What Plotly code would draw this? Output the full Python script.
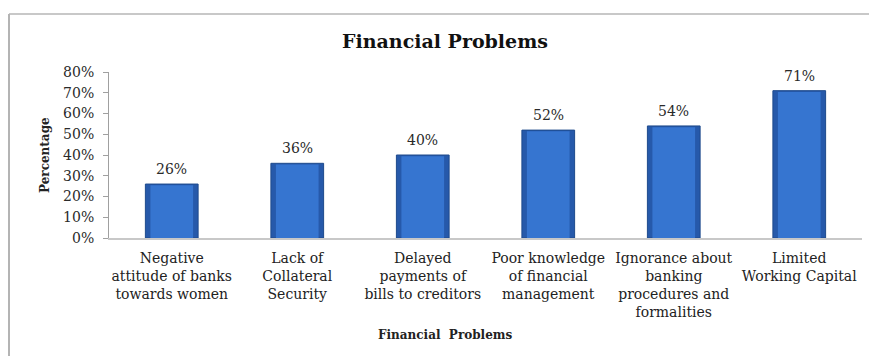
import plotly.graph_objects as go

categories = [
    "Negative<br>attitude of banks<br>towards women",
    "Lack of<br>Collateral<br>Security",
    "Delayed<br>payments of<br>bills to creditors",
    "Poor knowledge<br>of financial<br>management",
    "Ignorance about<br>banking<br>procedures and<br>formalities",
    "Limited<br>Working Capital",
]
values = [26, 36, 40, 52, 54, 71]
tick_vals = [0, 10, 20, 30, 40, 50, 60, 70, 80]
tick_text = [f"{v}%" for v in tick_vals]

SERIF = "DejaVu Serif, serif"
W, H = 869, 356
L, R, T, B = 109, 7, 72, 118
pw = W - L - R
ph = H - T - B

fig = go.Figure()
# outer bar body (darker rim)
fig.add_trace(go.Bar(
    x=categories, y=values, width=0.42,
    marker=dict(color="#2659AA", line=dict(color="#1E4A8C", width=1)),
    hoverinfo="skip", showlegend=False,
))
# lighter face to give the bars a shaded look
fig.add_trace(go.Bar(
    x=categories, y=[v - 0.6 for v in values], width=0.34,
    marker=dict(color="#3675D0", line=dict(width=0)),
    hoverinfo="skip", showlegend=False,
))

for c, v in zip(categories, values):
    fig.add_annotation(
        x=c, y=v, text=f"{v}%", showarrow=False,
        yanchor="bottom", yshift=5,
        font=dict(family=SERIF, size=14, color="#2a2a2a"),
    )

# chart frame: top and left edges
def px_x(x):
    return (x - L) / pw

def px_y(y):
    return 1 - (y - T) / ph

fig.add_shape(type="line", xref="paper", yref="paper",
              x0=px_x(9), x1=px_x(W), y0=px_y(14), y1=px_y(14),
              line=dict(color="#C8C8C8", width=2))
fig.add_shape(type="line", xref="paper", yref="paper",
              x0=px_x(9), x1=px_x(9), y0=px_y(14), y1=px_y(H),
              line=dict(color="#B4B4B4", width=2))

fig.add_annotation(
    xref="paper", yref="paper", x=px_x(45), y=px_y(155),
    xanchor="center", yanchor="middle",
    text="<b>Percentage</b>", textangle=-90, showarrow=False,
    font=dict(family=SERIF, size=12, color="#222222"),
)
fig.add_annotation(
    xref="paper", yref="paper", x=px_x(445), y=px_y(335),
    xanchor="center", yanchor="middle",
    text="<b>Financial  Problems</b>", showarrow=False,
    font=dict(family=SERIF, size=12, color="#222222"),
)

fig.update_layout(
    width=W, height=H,
    margin=dict(l=L, r=R, t=T, b=B),
    paper_bgcolor="white", plot_bgcolor="white",
    barmode="overlay",
    title=dict(text="<b>Financial Problems</b>", x=px_x(445), xanchor="center",
               xref="paper", y=1 - 41 / H, yanchor="middle",
               font=dict(family=SERIF, size=19, color="#111111")),
    xaxis=dict(
        showline=True, linecolor="#C8C8C8", linewidth=2,
        ticks="", showgrid=False, ticklabelstandoff=6,
        tickfont=dict(family=SERIF, size=14, color="#222222"),
    ),
    yaxis=dict(
        range=[0, 80], tickvals=tick_vals, ticktext=tick_text,
        showline=True, linecolor="#A0A0A0", linewidth=1,
        ticks="outside", ticklen=5, tickcolor="#A0A0A0",
        showgrid=False, zeroline=False, ticklabelstandoff=6,
        tickfont=dict(family=SERIF, size=14, color="#2a2a2a"),
    ),
    font=dict(family=SERIF),
)

fig.write_html("out.html")
